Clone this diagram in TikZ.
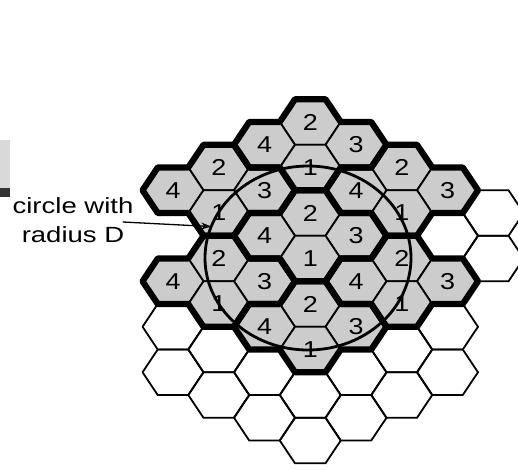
\documentclass[tikz,border=0pt]{standalone}
\usepackage{fontspec}
\setmainfont{Liberation Sans}
\usetikzlibrary{arrows.meta,shapes.geometric}

\begin{document}
\begin{tikzpicture}[line cap=round,line join=round,x=1pt,y=1pt,
    cell/.style={draw, line width=1.8pt},
    full/.style={cell, fill=black!20},
    clus/.style={draw, line width=6.2pt},
    num/.style={font=\fontsize{23}{23}\selectfont, xscale=1.17, inner sep=0pt},
    txt/.style={font=\fontsize{22}{22}\selectfont, xscale=1.25, inner sep=0pt, anchor=base}]
\useasboundingbox (0,0) rectangle (518,-469);
\clip (0,0) rectangle (518,-469);

% bit of a cut-off mark at the left edge
\fill[black!15] (0,-140) rectangle (10,-188);
\fill[black!80] (0,-188) rectangle (10,-197);

\begin{scope}[shift={(310.25pt,-258.5pt)}, x=30.5pt, y=22.75pt]
  % empty cells
  \foreach \c/\r in {-3/3,-3/5,-2/4,-2/6,-1/5,-1/7,0/6,0/8,1/5,1/7,2/4,2/6,3/-1,3/3,3/5,4/-2,4/0}
    \draw[cell] (1.5*\c-1,-1*\r) -- ++(.5,1) -- ++(1,0) -- ++(.5,-1) -- ++(-.5,-1) -- ++(-1,0) -- cycle;
  % shaded cells, four to a cluster
  \foreach \c/\r/\n in {0/-6/a,-2/-4/b,2/-4/c,0/-2/d,-2/0/e,2/0/f,0/2/g}
    \foreach \dc/\dr/\k in {0/0/2,-1/1/4,1/1/3,0/2/1} {
      \draw[full] (1.5*\c+1.5*\dc-1,-1*\r-\dr) -- ++(.5,1) -- ++(1,0) -- ++(.5,-1) -- ++(-.5,-1) -- ++(-1,0) -- cycle;
      \node[num] (\n\k) at (1.5*\c+1.5*\dc,-1*\r-\dr) {\k};
    }
  % cluster borders
  \foreach \c/\r in {0/-6,-2/-4,2/-4,0/-2,-2/0,2/0,0/2}
    \draw[clus] (1.5*\c-.5,-1*\r+1) -- ++(1,0) -- ++(.5,-1) -- ++(1,0) -- ++(.5,-1) -- ++(-.5,-1) -- ++(-1,0) -- ++(-.5,-1) -- ++(-1,0) -- ++(-.5,1) -- ++(-1,0) -- ++(-.5,1) -- ++(.5,1) -- ++(1,0) -- cycle;
\end{scope}

\node[draw, ellipse, line width=2.8pt, minimum width=206pt, minimum height=184pt, inner sep=0pt, outer sep=0pt] (cir) at (308,-258) {};

\node[txt] (lbla) at (73,-213) {circle with};
\node[txt] (lblb) at (73,-242) {radius D};
\coordinate (lbltail) at (123,-222);
\draw[line width=1.3pt, -{Stealth[length=10pt,width=7pt]}] (lbltail) -- (cir.162);
\end{tikzpicture}
\end{document}
